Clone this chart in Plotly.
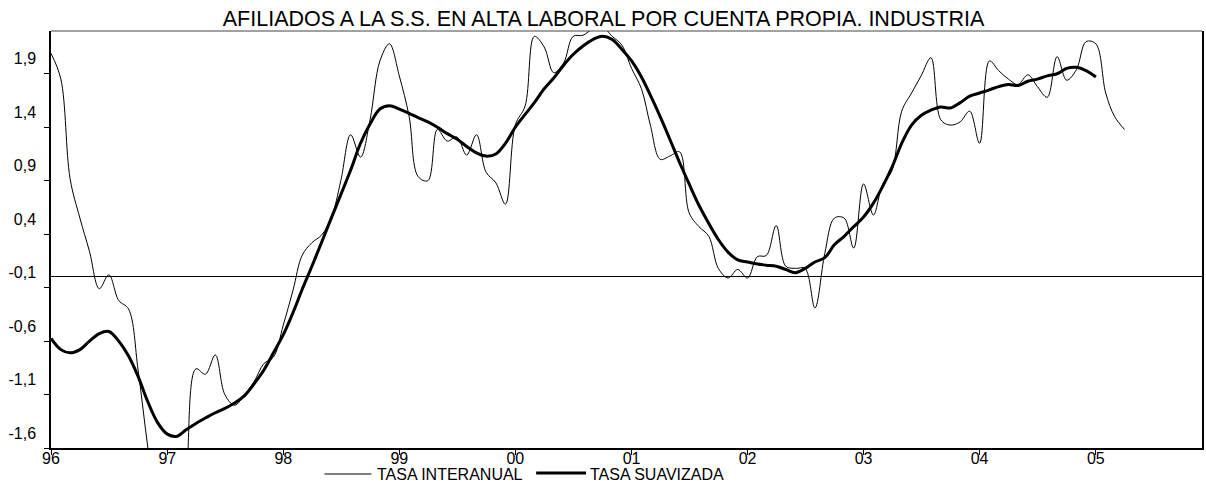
import pandas as pd
import plotly.graph_objects as go

# Monthly series, January 1996 onwards (year-on-year growth, %)
tasa_interanual = [
    2.09, 1.85, 0.92, 0.55, 0.24, -0.11, 0.02, -0.22, -0.30, -0.87,
    -1.60, -2.20, -2.50, -2.40, -1.90, -0.86, -0.91, -0.73, -1.10, -1.20,
    -1.10, -0.98, -0.81, -0.75, -0.45, -0.12, 0.20, 0.32, 0.39, 0.55,
    0.90, 1.33, 1.12, 1.47, 2.02, 2.18, 1.88, 1.50, 0.94, 0.90,
    1.38, 1.27, 1.31, 1.14, 1.33, 0.98, 0.88, 0.68, 1.42, 1.60,
    2.25, 2.15, 1.91, 2.00, 2.25, 2.26, 2.32, 2.34, 2.25, 2.17,
    1.95, 1.76, 1.42, 1.10, 1.13, 1.17, 0.60, 0.47, 0.38, 0.08,
    -0.01, 0.07, -0.01, 0.19, 0.20, 0.48, 0.10, 0.08, 0.08, -0.29,
    0.22, 0.55, 0.55, 0.27, 0.87, 0.58, 0.86, 1.00, 1.55, 1.72,
    1.88, 2.05, 1.47, 1.42, 1.45, 1.55, 1.25, 2.02, 1.93, 1.85,
    1.80, 1.89, 1.78, 1.68, 2.06, 1.84, 1.94, 2.20, 2.18, 1.72,
    1.50, 1.38,
]

tasa_suavizada = [
    -0.575, -0.68, -0.71, -0.68, -0.60, -0.53, -0.51, -0.60, -0.74, -0.93,
    -1.17, -1.36, -1.47, -1.49, -1.43, -1.37, -1.32, -1.27, -1.23, -1.18,
    -1.11, -1.00, -0.87, -0.71, -0.54, -0.33, -0.12, 0.10, 0.32, 0.55,
    0.77, 1.00, 1.25, 1.43, 1.57, 1.60, 1.57, 1.53, 1.49, 1.45,
    1.40, 1.34, 1.29, 1.22, 1.16, 1.13, 1.15, 1.25, 1.40, 1.52,
    1.63, 1.76, 1.86, 1.98, 2.08, 2.16, 2.22, 2.25, 2.22, 2.13,
    2.02, 1.87, 1.70, 1.50, 1.29, 1.07, 0.87, 0.67, 0.50, 0.35,
    0.23, 0.16, 0.14, 0.12, 0.11, 0.10, 0.07, 0.04, 0.08, 0.14,
    0.18, 0.30, 0.38, 0.47, 0.56, 0.69, 0.84, 1.03, 1.25, 1.42,
    1.51, 1.56, 1.59, 1.58, 1.63, 1.69, 1.72, 1.75, 1.78, 1.80,
    1.79, 1.83, 1.85, 1.88, 1.90, 1.95, 1.96, 1.93, 1.87,
]

year_ticks = list(range(1996, 2006))
year_labels = ["96", "97", "98", "99", "00", "01", "02", "03", "04", "05"]
y_ticks = [-1.6, -1.1, -0.6, -0.1, 0.4, 0.9, 1.4, 1.9]
y_labels = ["-1,6", "-1,1", "-0,6", "-0,1", "0,4", "0,9", "1,4", "1,9"]

months_a = pd.date_range("1996-01-01", periods=len(tasa_interanual), freq="MS")
months_b = pd.date_range("1996-01-01", periods=len(tasa_suavizada), freq="MS")

FONT = "Liberation Sans, Arial, sans-serif"
W, H = 1206, 488
ML, MR, MT, MB = 51, 2, 31, 40
PW, PH = W - ML - MR, H - MT - MB


def px_x(px):
    return (px - ML) / PW


def px_y(py):
    return (H - MB - py) / PH


fig = go.Figure()
fig.add_trace(go.Scatter(
    x=months_a, y=tasa_interanual, mode="lines", name="TASA INTERANUAL",
    line=dict(color="black", width=1, shape="spline", smoothing=1),
    showlegend=False,
))
fig.add_trace(go.Scatter(
    x=months_b, y=tasa_suavizada, mode="lines", name="TASA SUAVIZADA",
    line=dict(color="black", width=3, shape="spline", smoothing=1),
    showlegend=False,
))

shapes = [
    # top frame line
    dict(type="line", xref="paper", yref="paper", x0=0, x1=1, y0=1, y1=1,
         line=dict(color="#444", width=1)),
    # legend samples
    dict(type="line", xref="paper", yref="paper", x0=px_x(325), x1=px_x(372),
         y0=px_y(474), y1=px_y(474), line=dict(color="black", width=1)),
    dict(type="line", xref="paper", yref="paper", x0=px_x(537), x1=px_x(587),
         y0=px_y(473), y1=px_y(473), line=dict(color="black", width=3)),
]

annotations = [
    dict(text="TASA INTERANUAL", xref="paper", yref="paper", x=px_x(376), y=px_y(474),
         xanchor="left", yanchor="middle", showarrow=False,
         font=dict(family=FONT, size=16, color="black")),
    dict(text="TASA SUAVIZADA", xref="paper", yref="paper", x=px_x(589), y=px_y(474),
         xanchor="left", yanchor="middle", showarrow=False,
         font=dict(family=FONT, size=16, color="black")),
]

fig.update_layout(
    width=W, height=H,
    margin=dict(l=ML, r=MR, t=MT, b=MB, pad=0),
    paper_bgcolor="white", plot_bgcolor="white",
    font=dict(family=FONT, color="black"),
    title=dict(
        text="AFILIADOS A LA S.S. EN ALTA LABORAL POR CUENTA PROPIA. INDUSTRIA",
        x=603.5 / W, xanchor="center", xref="container",
        y=1 - 18.5 / H, yanchor="middle", yref="container",
        font=dict(family=FONT, size=21.5, color="black"),
    ),
    shapes=shapes,
    annotations=annotations,
    xaxis=dict(
        type="date",
        range=["1996-01-01", "2005-12-01"],
        tickvals=[f"{y}-01-01" for y in year_ticks],
        ticktext=year_labels,
        ticks="outside", ticklen=5, tickcolor="black", tickwidth=1,
        tickfont=dict(family=FONT, size=16, color="black"),
        showline=True, linecolor="black", linewidth=2,
        showgrid=False, zeroline=False,
        ticklabelstandoff=-10,
    ),
    yaxis=dict(
        range=[-1.6, 2.3],
        tickvals=y_ticks, ticktext=y_labels,
        ticks="outside", ticklen=5, tickcolor="black", tickwidth=1,
        tickfont=dict(family=FONT, size=16, color="black"),
        ticklabelshift=-15, ticklabelstandoff=5,
        showline=True, linecolor="black", linewidth=1.5, mirror=True,
        showgrid=False,
        zeroline=True, zerolinecolor="black", zerolinewidth=1,
    ),
)

fig.write_html("out.html")
